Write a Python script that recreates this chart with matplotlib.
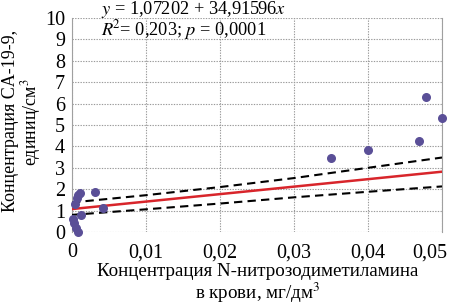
import numpy as np
import matplotlib.pyplot as plt
import matplotlib.transforms as mtransforms
from matplotlib.ticker import FuncFormatter

plt.rcParams['font.family'] = ['Liberation Serif', 'DejaVu Serif']

# Точки: концентрация НДМА (мг/дм3) и CA-19-9 (единиц/см3)
ndma = [0.0031, 0.0011, 0.0008, 0.0007, 0.0004, 0.0042, 0.0012, 0.0001,
        0.0003, 0.0006, 0.0008, 0.035, 0.040, 0.0469, 0.0479, 0.050]
ca199 = [1.85, 1.80, 1.72, 1.60, 1.30, 1.10, 0.80, 0.62,
         0.42, 0.20, 0.00, 3.45, 3.83, 4.27, 6.32, 5.34]

# Линия регрессии
intercept = 1.07202
slope = 34.91596

# Доверительные границы
band_x = [0.0, 0.01, 0.02, 0.03, 0.04, 0.05]
band_up = [1.38, 1.72, 2.10, 2.52, 3.00, 3.48]
band_low = [0.80, 1.06, 1.33, 1.62, 1.88, 2.13]

fig = plt.figure(figsize=(4.5, 3.04), dpi=100)
ax = fig.add_axes([72/450, 1 - 232/304, 370/450, 214/304])

xs = np.array([0.0, 0.05])
ax.plot(xs, intercept + slope * xs, color='#d8252b', lw=1.8, zorder=3)
ax.plot(band_x, band_up, color='black', ls='--', lw=1.5, dashes=(4, 2.5), zorder=3)
ax.plot(band_x, band_low, color='black', ls='--', lw=1.5, dashes=(4, 2.5), zorder=3)
ax.scatter(ndma, ca199, s=30, color='#5a4f97', zorder=4, clip_on=False)

ax.set_xlim(0, 0.05)
ax.set_ylim(0, 10)
ax.set_xticks([0, 0.01, 0.02, 0.03, 0.04, 0.05])
ax.set_yticks(range(0, 11))
ax.xaxis.set_major_formatter(FuncFormatter(
    lambda v, p: '0' if v == 0 else f'{v:.2f}'.replace('.', ',')))
ax.tick_params(labelsize=14.5, length=0, pad=5)
ax.tick_params(axis='x', pad=8)

# последняя подпись сдвинута влево, чтобы уместилась
last = ax.get_xticklabels()[-1]
last.set_ha('right')
last.set_transform(last.get_transform() +
                   mtransforms.ScaledTranslation(5/100, 0, fig.dpi_scale_trans))

ax.grid(True, color='#9a9a9a', ls=(0, (1.2, 1.2)), lw=0.8)
for s in ['top', 'bottom']:
    ax.spines[s].set_visible(False)
for s in ['left', 'right']:
    ax.spines[s].set_color('#a0a0a0')
    ax.spines[s].set_linewidth(0.8)

fig.text(101/450, 1 - 9.5/304, r'$y$ = 1,07202 + 34,91596$x$', fontsize=13.2,
         va='center', ha='left', math_fontfamily='stix')
fig.text(101/450, 1 - 30.5/304, r'$R$$^2$= 0,203; $p$ = 0,0001', fontsize=13.2,
         va='center', ha='left', math_fontfamily='stix')

fig.text(258/450, 1 - 272/304, 'Концентрация N-нитрозодиметиламина',
         fontsize=13.7, ha='center', va='center')
fig.text(258/450, 1 - 293/304, 'в крови, мг/дм$^3$',
         fontsize=13.7, ha='center', va='center', math_fontfamily='stix')
fig.text(11/450, 1 - 121/304, 'Концентрация CA-19-9,',
         fontsize=13, ha='center', va='center', rotation=90)
fig.text(31/450, 1 - 122/304, 'единиц/см$^3$',
         fontsize=13, ha='center', va='center', rotation=90,
         math_fontfamily='stix')

fig.savefig('out.png', dpi=100)
